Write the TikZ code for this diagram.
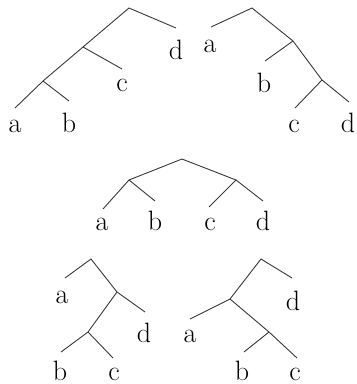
\documentclass[tikz,border=0pt]{standalone}
\begin{document}
\begin{tikzpicture}[x=1pt,y=-1pt,
  br/.style={draw=black!78,line width=0.9pt},
  lbl/.style={anchor=base,inner sep=0pt,font=\fontsize{28}{30}\selectfont}]
\useasboundingbox (0,0) rectangle (357,384);
% Tree 1
\coordinate (r1) at (129,8);
\coordinate (n1) at (83,47);
\coordinate (n2) at (43,81);
\coordinate (e1a) at (15,108);
\coordinate (e1b) at (69,101);
\coordinate (e1c) at (122,69);
\coordinate (e1d) at (176,28);
\node[lbl] (t1a) at (15,132) {a};
\node[lbl] (t1b) at (69,132) {b};
\node[lbl] (t1c) at (122,91) {c};
\node[lbl] (t1d) at (176,59) {d};
\draw[br] (e1d) -- (r1) -- (n1) -- (n2) -- (e1a);
\draw[br] (n1) -- (e1c);
\draw[br] (n2) -- (e1b);
% Tree 2
\coordinate (r2) at (252,8);
\coordinate (m1) at (293,41);
\coordinate (m2) at (322,80);
\coordinate (e2a) at (211,27);
\coordinate (e2b) at (265,61);
\coordinate (e2c) at (295,108);
\coordinate (e2d) at (349,102);
\node[lbl] (t2a) at (210,52) {a};
\node[lbl] (t2b) at (264,92) {b};
\node[lbl] (t2c) at (294,132) {c};
\node[lbl] (t2d) at (348,132) {d};
\draw[br] (e2a) -- (r2) -- (m1) -- (m2) -- (e2d);
\draw[br] (m1) -- (e2b);
\draw[br] (m2) -- (e2c);
% Tree 3
\coordinate (r3) at (182,159);
\coordinate (l3) at (129,180);
\coordinate (k3) at (236,180);
\coordinate (e3a) at (103,209);
\coordinate (e3b) at (155,201);
\coordinate (e3c) at (209,207);
\coordinate (e3d) at (263,201);
\node[lbl] (t3a) at (102,230) {a};
\node[lbl] (t3b) at (155,230) {b};
\node[lbl] (t3c) at (210,230) {c};
\node[lbl] (t3d) at (263,230) {d};
\draw[br] (l3) -- (r3) -- (k3);
\draw[br] (e3a) -- (l3) -- (e3b);
\draw[br] (e3c) -- (k3) -- (e3d);
% Tree 4
\coordinate (r4) at (91,259);
\coordinate (p4) at (117,292);
\coordinate (q4) at (88,332);
\coordinate (e4a) at (65,278);
\coordinate (e4b) at (61,352);
\coordinate (e4c) at (113,358);
\coordinate (e4d) at (145,312);
\node[lbl] (t4a) at (62,303) {a};
\node[lbl] (t4b) at (60,380) {b};
\node[lbl] (t4c) at (114,380) {c};
\node[lbl] (t4d) at (144,342) {d};
\draw[br] (e4a) -- (r4) -- (p4) -- (e4d);
\draw[br] (p4) -- (q4) -- (e4b);
\draw[br] (q4) -- (e4c);
% Tree 5
\coordinate (r5) at (261,259);
\coordinate (p5) at (230,299);
\coordinate (q5) at (269,332);
\coordinate (e5a) at (190,319);
\coordinate (e5b) at (244,352);
\coordinate (e5c) at (297,358);
\coordinate (e5d) at (292,278);
\node[lbl] (t5a) at (190,342) {a};
\node[lbl] (t5b) at (242,380) {b};
\node[lbl] (t5c) at (295,380) {c};
\node[lbl] (t5d) at (293,310) {d};
\draw[br] (e5d) -- (r5) -- (p5) -- (e5a);
\draw[br] (p5) -- (q5) -- (e5c);
\draw[br] (q5) -- (e5b);
\end{tikzpicture}
\end{document}
